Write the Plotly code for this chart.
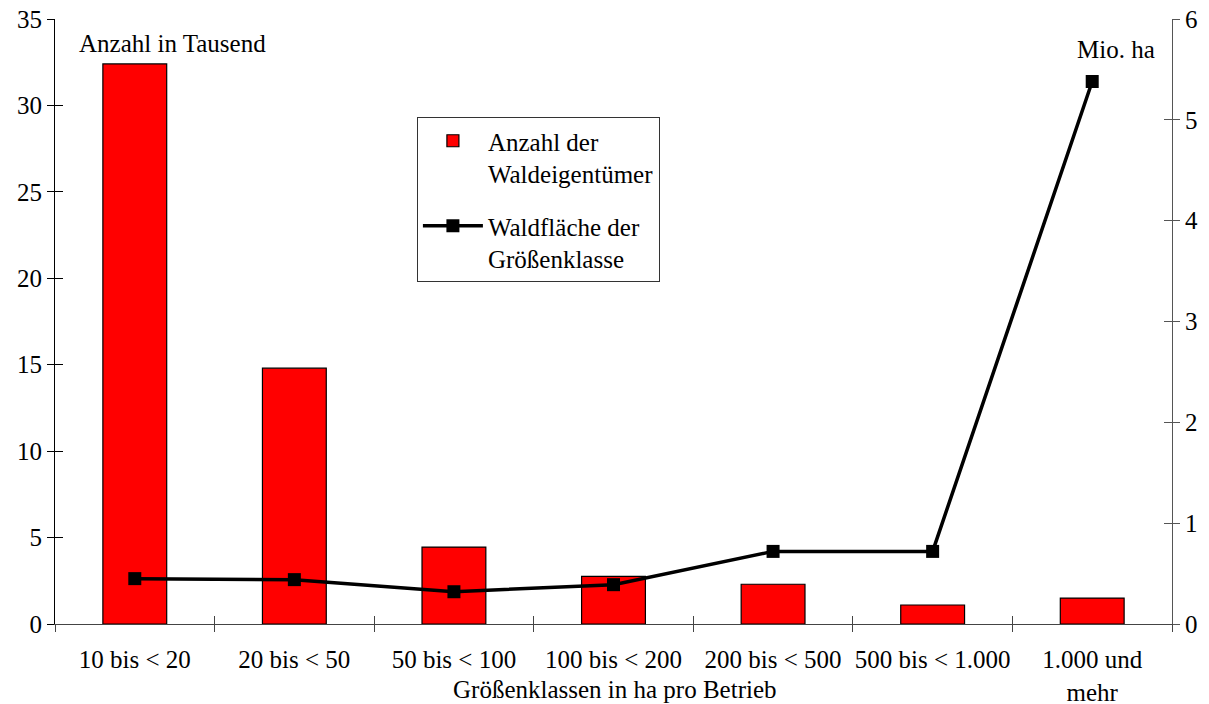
import plotly.graph_objects as go

categories = ["10 bis < 20", "20 bis < 50", "50 bis < 100", "100 bis < 200",
              "200 bis < 500", "500 bis < 1.000", "1.000 und<br>mehr"]
anzahl_tsd = [32.4, 14.8, 4.45, 2.75, 2.3, 1.1, 1.5]
flaeche_mio_ha = [0.45, 0.44, 0.32, 0.39, 0.72, 0.72, 5.38]

FONT = "Liberation Serif"
FS = 25

fig = go.Figure()
fig.add_trace(go.Bar(
    x=categories, y=anzahl_tsd, width=0.4,
    name="Anzahl der<br>Waldeigentümer", legendgroup="anzahl",
    marker=dict(color="#FF0000", line=dict(color="black", width=1.2)),
))
fig.add_trace(go.Scatter(
    x=categories, y=flaeche_mio_ha, yaxis="y2",
    mode="lines+markers", name="Waldfläche der<br>Größenklasse", legendgroup="flaeche",
    line=dict(color="black", width=3.5),
    marker=dict(symbol="square", size=13, color="black"),
))
# invisible helpers so the inner half of the crossing ticks gets drawn
fig.add_trace(go.Scatter(x=categories, y=[None] * len(categories), xaxis="x2", yaxis="y3",
                         showlegend=False, hoverinfo="skip"))
fig.add_trace(go.Scatter(x=categories, y=[None] * len(categories), xaxis="x2", yaxis="y4",
                         showlegend=False, hoverinfo="skip"))

tickfont = dict(family=FONT, size=FS, color="black")
fig.update_layout(
    width=1209, height=704,
    margin=dict(l=55, r=37, t=19, b=80, autoexpand=False),
    plot_bgcolor="white", paper_bgcolor="white",
    font=dict(family=FONT, size=FS, color="black"),
    showlegend=True,
    legend=dict(x=0.324, y=0.838, xanchor="left", yanchor="top",
                bgcolor="white", bordercolor="#333", borderwidth=1,
                font=dict(family=FONT, size=FS), tracegroupgap=17,
                valign="top", itemwidth=60),
    xaxis=dict(type="category", categoryorder="array", categoryarray=categories,
               range=[-0.5, 6.5], tickson="boundaries", ticks="outside", ticklen=7,
               tickcolor="#444", showline=True, linecolor="#444", linewidth=1,
               showgrid=False, tickfont=tickfont, tickangle=0, automargin=False,
               ticklabelstandoff=13, ticklabeloverflow="allow"),
    xaxis2=dict(type="category", categoryorder="array", categoryarray=categories,
                range=[-0.5, 6.5], overlaying="x", tickson="boundaries",
                ticks="inside", ticklen=8, tickcolor="#444", automargin=False,
                showticklabels=False, showgrid=False, showline=False),
    yaxis=dict(range=[0, 35], dtick=5, ticks="outside", ticklen=7, tickcolor="black",
               showline=True, linecolor="black", linewidth=1, showgrid=False,
               zeroline=False, tickfont=tickfont, automargin=False,
               ticklabeloverflow="allow"),
    yaxis2=dict(range=[0, 6], dtick=1, overlaying="y", side="right", ticks="outside",
                ticklen=7, tickcolor="#555", showline=True, linecolor="#555",
                linewidth=1, showgrid=False, zeroline=False, tickfont=tickfont,
                automargin=False, ticklabeloverflow="allow"),
    yaxis3=dict(range=[0, 35], dtick=5, overlaying="y", side="left", anchor="x2",
                ticks="inside", ticklen=8, tickcolor="black", showticklabels=False,
                showgrid=False, zeroline=False, showline=False, automargin=False),
    yaxis4=dict(range=[0, 6], dtick=1, overlaying="y", side="right", anchor="x2",
                ticks="inside", ticklen=8, tickcolor="#555", showticklabels=False,
                showgrid=False, zeroline=False, showline=False, automargin=False),
    annotations=[
        dict(text="Anzahl in Tausend", x=0.0197, y=0.960, xref="paper", yref="paper",
             xanchor="left", yanchor="middle", showarrow=False),
        dict(text="Mio. ha", x=0.9866, y=0.949, xref="paper", yref="paper",
             xanchor="right", yanchor="middle", showarrow=False),
        dict(text="Größenklassen in ha pro Betrieb", x=0.501, y=-0.109, xref="paper",
             yref="paper", xanchor="center", yanchor="middle", showarrow=False),
    ],
)

# drop the default 8px body margin so the figure fills the window exactly
fig.write_html("out.html", config={"displayModeBar": False},
               post_script="document.body.style.margin='0';")
